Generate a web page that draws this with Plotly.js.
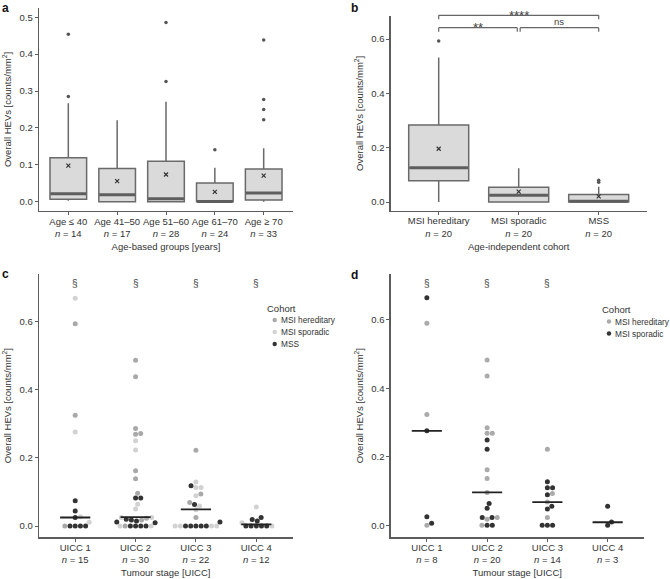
<!DOCTYPE html>
<html><head><meta charset="utf-8">
<script src="https://cdn.plot.ly/plotly-3.0.1.min.js"></script>
<style>html,body{margin:0;padding:0;background:#fff}#chart{width:670px;height:579px}</style>
</head><body><div id="chart"></div>
<script>
// ---------- Panel a : age groups ----------
const ageGroups = ['Age ≤ 40','Age 41–50','Age 51–60','Age 61–70','Age ≥ 70'];
const ageN = [14,17,28,24,33];
const ageLower = [0.003,0,0,0,0];
const ageQ1 = [0.007,0,0,0,0.005];
const ageMedian = [0.022,0.019,0.008,0.001,0.024];
const ageQ3 = [0.119,0.090,0.110,0.051,0.089];
const ageUpper = [0.267,0.221,0.271,0.092,0.145];
const ageMean = [0.098,0.056,0.074,0.027,0.071];
const ageOutliers = [[0.454,0.285],[],[0.486,0.326],[0.141],[0.438,0.277,0.250,0.222]];

// ---------- Panel b : cohorts ----------
const cohorts = ['MSI hereditary','MSI sporadic','MSS'];
const cohortN = [20,20,20];
const cohLower = [0,0,0];
const cohQ1 = [0.078,0,0];
const cohMedian = [0.126,0.025,0.003];
const cohQ3 = [0.284,0.054,0.028];
const cohUpper = [0.532,0.124,0.056];
const cohMean = [0.196,0.038,0.021];
const cohOutliers = [[0.593],[],[0.080,0.073]];
const compFrom = [0,0,1];
const compTo = [2,1,2];
const compLabel = ['****','**','ns'];
const compLevel = [0,1,1];

// ---------- Panel c : all cohorts by stage ----------
const stages = ['UICC 1','UICC 2','UICC 3','UICC 4'];
const stageNc = [15,30,22,12];
const cHered = [[0.593,0.325,0],[0.486,0.438,0.286,0.271,0.269,0.162,0.139,0.096,0.023,0.018,0],[0.222,0.094,0.069,0.025],[]];
const cSpor = [[0.668,0.276,0.027,0.011],[0.250,0.223,0.064,0.050,0.025,0.025,0,0],[0.129,0.113,0.113,0.089,0.059,0.048,0,0,0,0],[0.056,0.010,0]];
const cMss = [[0.074,0.044,0.025,0,0,0,0],[0.082,0.082,0.020,0.018,0.015,0.012,0.010,0,0,0,0],[0.118,0.063,0.012,0,0,0,0,0],[0.025,0.019,0.015,0,0,0,0,0]];
const cMedian = [0.025,0.026,0.049,0.005];
const cSection = [true,true,true,true];

// ---------- Panel d : MSI only by stage ----------
const stageNd = [8,20,14,3];
const dHered = [[0.590,0.324,0],[0.483,0.436,0.285,0.269,0.269,0.162,0.137,0.096,0.023,0.018,0],[0.222,0.093,0.068,0.023],[]];
const dSpor = [[0.665,0.276,0.025,0.006],[0.249,0.222,0.064,0.050,0.023,0.023,0,0],[0.127,0.110,0.110,0.089,0.056,0.048,0,0,0],[0.056,0.010,0]];
const dMedian = [0.276,0.096,0.068,0.009];
const dSection = [true,true,true,false];

// ---------- layout geometry ----------
const W = 670, H = 579;
const FONT = 'Liberation Sans, Arial, Helvetica, sans-serif';
const TXT = '#333333';
const AX = '#5c5c5c';
const px2x = p => p / W;
const px2y = p => 1 - p / H;
const panels = {
  a: {xd:[39,293], yd:[8,211], xr:[-0.6,4.6], yr:[-0.025,0.525]},
  b: {xd:[390.7,646.7], yd:[16,210.7], xr:[-0.6,2.6], yr:[-0.032,0.685]},
  c: {xd:[39,292.5], yd:[274,537.3], xr:[-0.6,3.6], yr:[-0.033,0.739]},
  d: {xd:[390.7,643.8], yd:[274,537.3], xr:[-0.6,3.6], yr:[-0.035,0.734]}
};
function xDomain(p){ return [px2x(p.xd[0]), px2x(p.xd[1])]; }
function yDomain(p){ return [px2y(p.yd[1]), px2y(p.yd[0])]; }
function pxPerX(p){ return (p.xd[1]-p.xd[0])/(p.xr[1]-p.xr[0]); }
function pxPerY(p){ return (p.yd[1]-p.yd[0])/(p.yr[1]-p.yr[0]); }

const idx = arr => arr.map((_, i) => i);
const tickText = (names, ns) => names.map((g, i) => g + '<br><i>n</i> = ' + ns[i]);

function xAxis(p, anchor, names, ns, title) {
  return {domain:xDomain(p), range:p.xr, anchor:anchor, showline:true, linecolor:AX, linewidth:1.3,
    ticks:'outside', ticklen:3, tickcolor:AX, tickwidth:1, showgrid:false, zeroline:false,
    tickmode:'array', tickvals:idx(names), ticktext:tickText(names, ns), ticklabelstandoff:-2,
    tickfont:{family:FONT, size:9.5, color:TXT}, automargin:false,
    title:{text:title, font:{family:FONT, size:9.5, color:TXT}, standoff:5}};
}
function yAxis(p, anchor, dtick) {
  return {domain:yDomain(p), range:p.yr, anchor:anchor, showline:true, linecolor:AX, linewidth:1.3,
    ticks:'outside', ticklen:3, tickcolor:AX, tickwidth:1, showgrid:false, zeroline:false,
    tick0:0, dtick:dtick, tickformat:'.1f', tickfont:{family:FONT, size:9.5, color:TXT}, automargin:false,
    title:{text:'Overall HEVs [counts/mm<sup>2</sup>]', font:{family:FONT, size:9.5, color:TXT}, standoff:6}};
}

const traces = [];
const BOXW = 0.75;
function boxPanel(xa, ya, q1, med, q3, lo, hi, mean, outl) {
  const pos = idx(q1);
  traces.push({type:'box', x:pos, q1:q1, median:med, q3:q3, lowerfence:lo, upperfence:hi,
    width:BOXW, whiskerwidth:0, fillcolor:'#dadada', line:{color:'#6a6a6a', width:1.5},
    boxpoints:false, xaxis:xa, yaxis:ya, showlegend:false, hoverinfo:'skip'});
  // thick median bars
  const mx = [], my = [];
  pos.forEach((p, i) => { mx.push(p - BOXW/2 + 0.01, p + BOXW/2 - 0.01, null); my.push(med[i], med[i], null); });
  traces.push({type:'scatter', mode:'lines', x:mx, y:my, line:{color:'#5e5e5e', width:3},
    xaxis:xa, yaxis:ya, showlegend:false, hoverinfo:'skip'});
  // outliers
  const ox = [], oy = [];
  outl.forEach((arr, i) => arr.forEach(v => { ox.push(i); oy.push(v); }));
  traces.push({type:'scatter', mode:'markers', x:ox, y:oy, marker:{color:'#555', size:3.5},
    xaxis:xa, yaxis:ya, showlegend:false, hoverinfo:'skip', cliponaxis:false});
  // means
  traces.push({type:'scatter', mode:'markers', x:pos, y:mean,
    marker:{symbol:'x-thin', size:4, line:{color:'#333', width:1.2}, color:'#333'},
    xaxis:xa, yaxis:ya, showlegend:false, hoverinfo:'skip'});
}
boxPanel('x','y', ageQ1, ageMedian, ageQ3, ageLower, ageUpper, ageMean, ageOutliers);
boxPanel('x2','y2', cohQ1, cohMedian, cohQ3, cohLower, cohUpper, cohMean, cohOutliers);

// ---------- beeswarm ----------
const DOT = 5, GAP = 5.2;
function swarmPanel(p, xa, ya, seriesList, medians) {
  const kx = pxPerX(p), ky = pxPerY(p);
  const out = seriesList.map(() => ({x:[], y:[]}));
  const nCat = seriesList[0].data.length;
  for (let c = 0; c < nCat; c++) {
    const pts = [];
    seriesList.slice().sort((a,b)=>a.order-b.order).forEach(s => {
      const si = seriesList.indexOf(s);
      s.data[c].forEach(v => pts.push({v, si}));
    });
    const ord = pts.map((_, i) => i).sort((a, b) => pts[a].v - pts[b].v || a - b);
    const placed = [];
    ord.forEach(i => {
      const y = pts[i].v * ky;
      const cands = [0];
      placed.forEach(q => {
        const dy = y - q.y;
        if (Math.abs(dy) < GAP) { const dx = Math.sqrt(GAP*GAP - dy*dy); cands.push(q.x + dx, q.x - dx); }
      });
      cands.sort((a, b) => Math.abs(a) - Math.abs(b) || b - a);
      let chosen = 0;
      for (const cx of cands) {
        if (placed.every(q => (q.x-cx)*(q.x-cx) + (q.y-y)*(q.y-y) >= GAP*GAP - 1e-6)) { chosen = cx; break; }
      }
      placed.push({x:chosen, y});
      out[pts[i].si].x.push(c + chosen / kx);
      out[pts[i].si].y.push(pts[i].v);
    });
  }
  seriesList.forEach((s, si) => {
    traces.push({type:'scatter', mode:'markers', x:out[si].x, y:out[si].y, name:s.name,
      marker:{color:s.color, size:DOT}, xaxis:xa, yaxis:ya, showlegend:false, hoverinfo:'skip', cliponaxis:false});
  });
  const mx = [], my = [];
  medians.forEach((m, i) => { mx.push(i - 0.25, i + 0.25, null); my.push(m, m, null); });
  traces.push({type:'scatter', mode:'lines', x:mx, y:my, line:{color:'#222', width:1.8},
    xaxis:xa, yaxis:ya, showlegend:false, hoverinfo:'skip'});
}
const cSeries = [
  {name:'MSI sporadic', data:cSpor, color:'#d2d2d2', order:2},
  {name:'MSI hereditary', data:cHered, color:'#a9a9a9', order:1},
  {name:'MSS', data:cMss, color:'#333333', order:0}
];
const dSeries = [
  {name:'MSI hereditary', data:dHered, color:'#ababab', order:1},
  {name:'MSI sporadic', data:dSpor, color:'#333333', order:0}
];
swarmPanel(panels.c, 'x3', 'y3', cSeries, cMedian);
swarmPanel(panels.d, 'x4', 'y4', dSeries, dMedian);

// ---------- annotations & shapes ----------
const annotations = [];
const shapes = [];
const panelLabels = [['a',1,0],['b',350,0],['c',1,266],['d',350,267]];
panelLabels.forEach(([t, x, y]) => annotations.push({text:'<b>'+t+'</b>', xref:'paper', yref:'paper',
  x:px2x(x), y:px2y(y), xanchor:'left', yanchor:'top', showarrow:false, borderpad:0,
  font:{family:FONT, size:12, color:'#111'}}));

// section marks
function sectionMarks(xa, flags) {
  flags.forEach((f, i) => { if (f) annotations.push({text:'§', xref:xa, yref:'paper', x:i, y:px2y(283),
    xanchor:'center', yanchor:'middle', showarrow:false, font:{family:FONT, size:10, color:'#444'}}); });
}
sectionMarks('x3', cSection);
sectionMarks('x4', dSection);

// significance brackets (panel b)
const bracketY = [15.3, 27.7], tickDrop = 4, gapEnd = 0.018;
compFrom.forEach((f, k) => {
  const t = compTo[k];
  const isLevel1 = compLevel[k] === 1;
  const x0 = f + (isLevel1 && f > 0 ? gapEnd : 0);
  const x1 = t - (isLevel1 && t < 2 ? gapEnd : 0);
  const yl = bracketY[compLevel[k]];
  const line = {color:'#666', width:1.2};
  shapes.push({type:'line', xref:'x2', yref:'paper', x0:x0, x1:x1, y0:px2y(yl), y1:px2y(yl), line});
  shapes.push({type:'line', xref:'x2', yref:'paper', x0:x0, x1:x0, y0:px2y(yl), y1:px2y(yl+tickDrop), line});
  shapes.push({type:'line', xref:'x2', yref:'paper', x0:x1, x1:x1, y0:px2y(yl), y1:px2y(yl+tickDrop), line});
  const stars = /^\*+$/.test(compLabel[k]);
  annotations.push({text:compLabel[k], xref:'x2', yref:'paper', x:(x0+x1)/2, y:px2y(yl),
    xanchor:'center', yanchor: stars ? 'middle' : 'bottom', yshift: stars ? 0 : -1, showarrow:false,
    font:{family:FONT, size: stars ? 13 : 9.5, color:'#444'}});
});

// manual legends
function legend(series, titleX, titleY, dotX, firstY, step, textX) {
  annotations.push({text:'Cohort', xref:'paper', yref:'paper', x:px2x(titleX), y:px2y(titleY),
    xanchor:'left', yanchor:'middle', showarrow:false, borderpad:0, font:{family:FONT, size:9.5, color:TXT}});
  const ordered = series.slice().sort((a, b) => a.name === 'MSS' ? 1 : b.name === 'MSS' ? -1 : (a.name < b.name ? -1 : 1));
  ordered.forEach((s, i) => {
    const y = firstY + step * i;
    shapes.push({type:'circle', xref:'paper', yref:'paper', xsizemode:'pixel', ysizemode:'pixel',
      xanchor:px2x(dotX), yanchor:px2y(y), x0:-2.2, x1:2.2, y0:-2.2, y1:2.2,
      fillcolor:s.color, line:{width:0}});
    annotations.push({text:s.name, xref:'paper', yref:'paper', x:px2x(textX), y:px2y(y),
      xanchor:'left', yanchor:'middle', showarrow:false, borderpad:0, font:{family:FONT, size:8.3, color:TXT}});
  });
}
legend(cSeries, 266, 308, 274.7, 320, 12, 280);
legend(dSeries, 601, 309.5, 609, 321.5, 12, 614);

const layout = {
  width:W, height:H, margin:{l:0, r:0, t:0, b:0}, paper_bgcolor:'#fff', plot_bgcolor:'#fff',
  font:{family:FONT, color:TXT}, showlegend:false,
  xaxis:xAxis(panels.a, 'y', ageGroups, ageN, 'Age-based groups [years]'),
  yaxis:yAxis(panels.a, 'x', 0.1),
  xaxis2:xAxis(panels.b, 'y2', cohorts, cohortN, 'Age-independent cohort'),
  yaxis2:yAxis(panels.b, 'x2', 0.2),
  xaxis3:xAxis(panels.c, 'y3', stages, stageNc, 'Tumour stage [UICC]'),
  yaxis3:yAxis(panels.c, 'x3', 0.2),
  xaxis4:xAxis(panels.d, 'y4', stages, stageNd, 'Tumour stage [UICC]'),
  yaxis4:yAxis(panels.d, 'x4', 0.2),
  annotations, shapes
};
Plotly.newPlot('chart', traces, layout, {staticPlot:true, displayModeBar:false});
</script></body></html>
